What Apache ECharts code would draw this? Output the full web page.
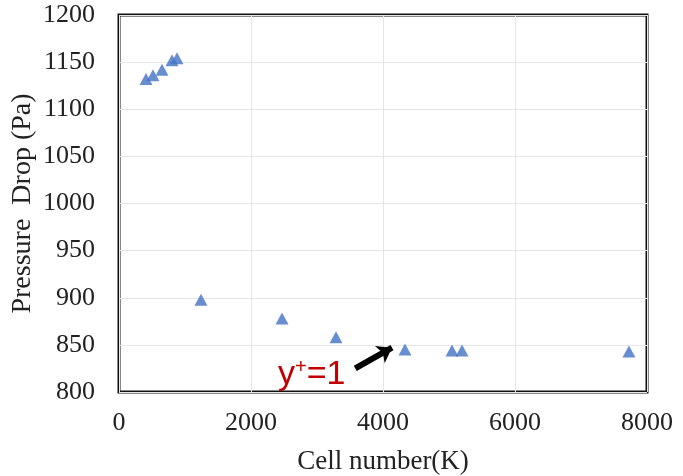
<!DOCTYPE html>
<html>
<head>
<meta charset="utf-8">
<script src="https://cdn.jsdelivr.net/npm/echarts@6/dist/echarts.min.js"></script>
<style>
html,body{margin:0;padding:0;background:#fff;}
#chart{width:683px;height:476px;}
</style>
</head>
<body>
<div id="chart"></div>
<script>
// Data
var cellNumbers = [409, 515, 652, 803, 879, 1242, 2470, 3288, 4333, 5045, 5197, 7727];
var pressureDrop = [1132, 1136, 1142, 1152, 1154, 898, 878, 858, 845, 844, 844, 843];
var xTicks = [0, 2000, 4000, 6000, 8000];
var yTicks = [800, 850, 900, 950, 1000, 1050, 1100, 1150, 1200];
var annotationText = 'y+=1';
var arrowStart = [3580, 825];
var arrowEnd = [4136, 847];
var annotationPos = [2920, 818];

var points = cellNumbers.map(function (x, i) { return [x, pressureDrop[i]]; });
var serif = '"Liberation Serif", "DejaVu Serif", serif';
var sans = '"Liberation Sans", Arial, sans-serif';

var chart = echarts.init(document.getElementById('chart'));
chart.setOption({
  animation: false,
  backgroundColor: '#fff',
  grid: {
    left: 119, right: 36, top: 15, bottom: 84,
    outerBoundsMode: 'none', containLabel: false,
    show: true, borderColor: '#111', borderWidth: 3, backgroundColor: 'transparent'
  },
  xAxis: {
    type: 'value',
    min: xTicks[0], max: xTicks[xTicks.length - 1], interval: 2000,
    name: 'Cell number(K)', nameLocation: 'middle', nameGap: 56,
    nameMoveOverlap: false,
    nameTextStyle: { fontFamily: serif, fontSize: 27, color: '#222' },
    axisLine: { show: false }, axisTick: { show: false },
    axisLabel: { fontFamily: serif, fontSize: 26, color: '#222', margin: 18,
      formatter: function (v) { return String(v); } },
    splitLine: { show: true, lineStyle: { color: '#e6e6e6', width: 1 } }
  },
  yAxis: {
    type: 'value',
    min: yTicks[0], max: yTicks[yTicks.length - 1], interval: 50,
    name: 'Pressure  Drop (Pa)', nameLocation: 'middle', nameGap: 82,
    nameMoveOverlap: false,
    nameTextStyle: { fontFamily: serif, fontSize: 28, color: '#222' },
    axisLine: { show: false }, axisTick: { show: false },
    axisLabel: { fontFamily: serif, fontSize: 26, color: '#222', margin: 24,
      formatter: function (v) { return String(v); } },
    splitLine: { show: true, lineStyle: { color: '#e6e6e6', width: 1 } }
  },
  series: [{
    type: 'scatter',
    data: points,
    symbol: 'triangle',
    symbolSize: [13, 12],
    itemStyle: { color: '#4472c4' },
    z: 3,
    markLine: {
      silent: true,
      symbol: ['none', 'arrow'],
      symbolSize: [15, 14],
      lineStyle: { color: '#000', width: 6, type: 'solid' },
      label: { show: false },
      data: [[{ coord: arrowStart }, { coord: arrowEnd }]]
    },
    markPoint: {
      silent: true,
      symbol: 'circle', symbolSize: 0,
      data: [{ coord: annotationPos }],
      label: {
        show: true,
        position: 'inside',
        formatter: '{a|y}{b|+}{a|=1}',
        rich: {
          a: { fontFamily: sans, fontSize: 34, color: '#c00000' },
          b: { fontFamily: sans, fontSize: 20, color: '#c00000', verticalAlign: 'top', padding: [0, 0, 16, 0] }
        }
      }
    }
  }]
});
</script>
</body>
</html>
